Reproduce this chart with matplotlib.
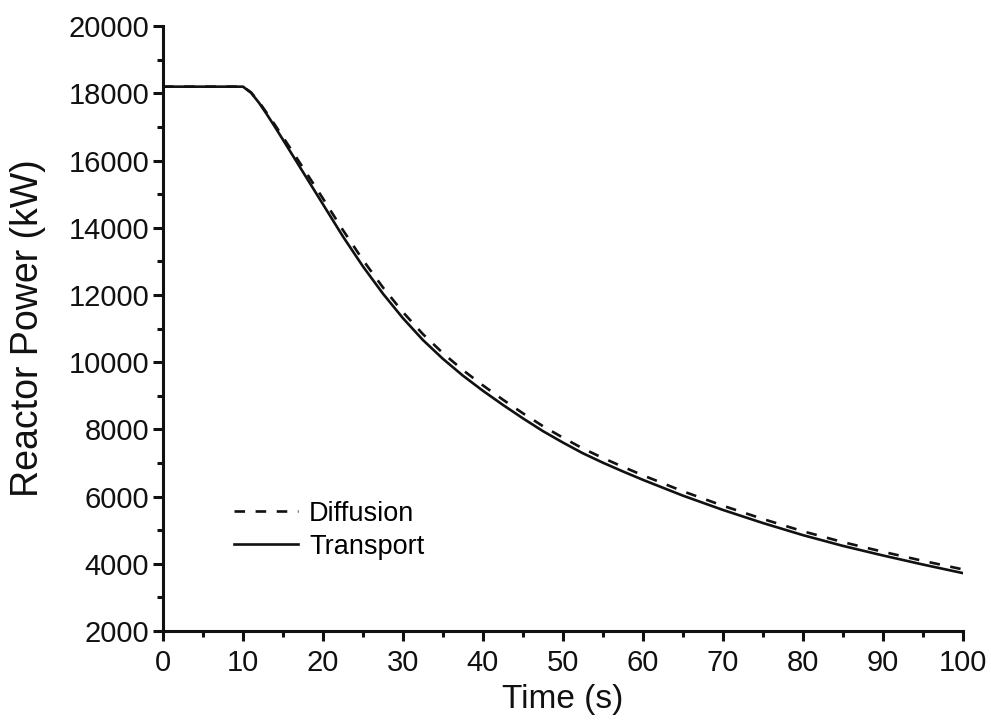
import matplotlib
matplotlib.use("Agg")
import matplotlib.pyplot as plt
from matplotlib.ticker import MultipleLocator

plt.rcParams['font.family'] = ['Liberation Sans', 'DejaVu Sans']

time_s = [0, 5, 10, 11, 12, 13, 14, 15, 17.5, 20, 22.5, 25, 27.5, 30, 32.5, 35, 37.5,
          40, 42.5, 45, 47.5, 50, 52.5, 55, 57.5, 60, 65, 70, 75, 80, 85, 90, 95, 100]
transport_kw = [18200, 18200, 18200, 18020, 17720, 17370, 17000, 16620, 15660, 14700,
                13740, 12850, 12040, 11310, 10660, 10100, 9600, 9150, 8730, 8330,
                7950, 7610, 7290, 7010, 6750, 6500, 6030, 5605, 5215, 4855, 4535,
                4250, 3980, 3725]
diffusion_kw = [18200, 18200, 18200, 18030, 17745, 17410, 17060, 16700, 15790, 14870,
                13930, 13040, 12225, 11490, 10835, 10270, 9765, 9310, 8885, 8480,
                8098, 7755, 7432, 7150, 6888, 6635, 6160, 5730, 5335, 4970, 4647,
                4360, 4090, 3835]

fig = plt.figure(figsize=(9.91, 7.27), dpi=100)
ax = fig.add_axes([0.1645, 0.132, 0.807, 0.832])

lw = 1.9
ax.plot(time_s, diffusion_kw, color='#111111', lw=lw, dashes=(4, 4), label='Diffusion')
ax.plot(time_s, transport_kw, color='#111111', lw=lw, label='Transport')

ax.set_xlim(0, 100)
ax.set_ylim(2000, 20000)
ax.xaxis.set_major_locator(MultipleLocator(10))
ax.xaxis.set_minor_locator(MultipleLocator(5))
ax.yaxis.set_major_locator(MultipleLocator(2000))
ax.yaxis.set_minor_locator(MultipleLocator(1000))

for s in ['top', 'right']:
    ax.spines[s].set_visible(False)
for s in ['left', 'bottom']:
    ax.spines[s].set_linewidth(2.2)
    ax.spines[s].set_color('#111111')

ax.tick_params(which='major', direction='out', length=7, width=2.2, labelsize=21,
               colors='#111111', pad=3)
ax.tick_params(axis='x', which='major', pad=6)
ax.tick_params(which='minor', direction='out', length=4, width=2.2, colors='#111111')

ax.set_xlabel('Time (s)', fontsize=24, color='#111111', labelpad=5)
ax.set_ylabel('Reactor Power (kW)', fontsize=27, color='#111111', labelpad=16)

ax.legend(loc='lower left', bbox_to_anchor=(0.089, 0.118), frameon=False, fontsize=19.5,
          handlelength=2.36, handletextpad=0.4, labelspacing=0.26, borderpad=0,
          borderaxespad=0)

fig.savefig('out.png', dpi=100)
